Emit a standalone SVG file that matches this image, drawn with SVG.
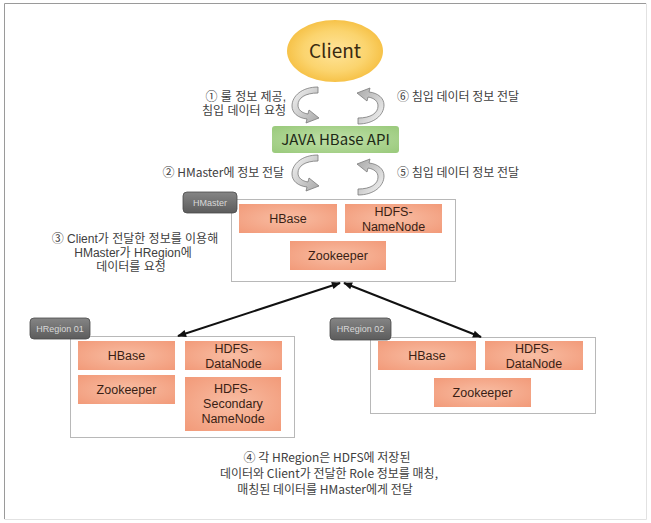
<svg xmlns="http://www.w3.org/2000/svg" width="651" height="523" viewBox="0 0 651 523">
<defs>
<style>
text{font-family:"Noto Sans CJK KR","Noto Sans",sans-serif;}
.lbl{font-size:12px;fill:#404040;}
.lb2{font-family:"Liberation Sans","Noto Sans CJK KR",sans-serif;font-size:12px;fill:#404040;}
.box{fill:url(#sal);}
.bt{font-family:"Liberation Sans",Arial,sans-serif;font-size:12.5px;fill:#3a1e14;text-anchor:middle;}
.cont{fill:#fff;stroke:#b8b8b8;stroke-width:1;}
.tag{fill:url(#gry);stroke:#4a4a4a;stroke-width:0.8;}
.tt{font-family:"Liberation Sans",Arial,sans-serif;font-size:9px;fill:#d8d8d8;text-anchor:middle;}
.carr{fill:url(#arrg);stroke:#7a7a7a;stroke-width:0.8;}
.con{stroke:#111;stroke-width:2;fill:none;marker-start:url(#ah);marker-end:url(#ah);}
</style>
<radialGradient id="sal" cx="50%" cy="50%" r="70%">
<stop offset="0" stop-color="#f8bda3"/>
<stop offset="1" stop-color="#f29a79"/>
</radialGradient>
<radialGradient id="gold" cx="50%" cy="50%" r="55%">
<stop offset="0" stop-color="#ffe49a"/>
<stop offset="0.6" stop-color="#fbd46e"/>
<stop offset="1" stop-color="#f5bd3e"/>
</radialGradient>
<radialGradient id="grn" cx="50%" cy="50%" r="65%">
<stop offset="0" stop-color="#bfe0a8"/>
<stop offset="1" stop-color="#9ccb7e"/>
</radialGradient>
<linearGradient id="gry" x1="0" y1="0" x2="0" y2="1">
<stop offset="0" stop-color="#858585"/>
<stop offset="1" stop-color="#5c5c5c"/>
</linearGradient>
<linearGradient id="arrg" x1="0" y1="0" x2="1" y2="1">
<stop offset="0" stop-color="#f6f6f6"/>
<stop offset="1" stop-color="#a8a8a8"/>
</linearGradient>
<marker id="ah" viewBox="0 0 10 10" refX="9" refY="5" markerWidth="10" markerHeight="9" orient="auto-start-reverse" markerUnits="userSpaceOnUse">
<path d="M0,1 L10,5 L0,9 z" fill="#111"/>
</marker>
<path id="curv" d="M13,-18 C-3,-18 -13,-9 -13,1 C-13,8 -7,13 2,14 L1,18 L14,13 L4,5 L3,9 C-3,8 -7,5 -7,0 C-7,-7 0,-12 13,-12 Z"/>
</defs>

<rect x="0" y="0" width="651" height="523" fill="#fff"/>
<path d="M4.5,519 L4.5,3.5 L646,3.5" fill="none" stroke="#9a9a9a" stroke-width="1"/>
<path d="M646.5,3.5 L646.5,519.5 L4.5,519.5" fill="none" stroke="#e2e2e2" stroke-width="1"/>

<g id="client">
<ellipse cx="335" cy="51" rx="48" ry="31" fill="url(#gold)"/>
<text x="335" y="58" font-size="19" fill="#3a2a10" text-anchor="middle">Client</text>
</g>

<g id="api">
<rect x="272" y="126" width="127" height="27" rx="3" fill="url(#grn)"/>
<text x="335.5" y="145" font-size="15" fill="#1e2a16" text-anchor="middle">JAVA HBase API</text>
</g>

<g id="flow-arrows">
<use href="#curv" class="carr" transform="translate(305,105)"/>
<use href="#curv" class="carr" transform="translate(371,106) rotate(180)"/>
<use href="#curv" class="carr" transform="translate(305,173)"/>
<use href="#curv" class="carr" transform="translate(371,177) rotate(180)"/>
</g>

<g id="labels">
<text class="lb2" x="286" y="101" text-anchor="end">① 룰 정보 제공,</text>
<text class="lb2" x="286" y="115" text-anchor="end">침입 데이터 요청</text>
<text class="lbl" x="397" y="101">⑥ 침입 데이터 정보 전달</text>
<text class="lbl" x="284" y="177" text-anchor="end">② HMaster에 정보 전달</text>
<text class="lbl" x="397" y="177">⑤ 침입 데이터 정보 전달</text>
<text class="lb2" x="135" y="243" text-anchor="middle">③ Client가 전달한 정보를 이용해</text>
<text class="lb2" x="133" y="257" text-anchor="middle">HMaster가 HRegion에</text>
<text class="lb2" x="131" y="271" text-anchor="middle">데이터를 요청</text>
<text class="lbl" x="327" y="462" text-anchor="middle">④ 각 HRegion은 HDFS에 저장된</text>
<text class="lbl" x="329" y="478" text-anchor="middle">데이터와 Client가 전달한 Role 정보를 매칭,</text>
<text class="lbl" x="325" y="494" text-anchor="middle">매칭된 데이터를 HMaster에게 전달</text>
</g>

<g id="hmaster">
<rect class="cont" x="231.5" y="199.5" width="224" height="82"/>
<rect class="tag" x="183" y="192" width="54" height="21" rx="4"/>
<text class="tt" x="210" y="206">HMaster</text>
<rect class="box" x="239" y="204" width="98" height="29"/>
<text class="bt" x="288" y="223">HBase</text>
<rect class="box" x="345" y="204" width="97" height="29"/>
<text class="bt" x="393.5" y="216">HDFS-</text>
<text class="bt" x="393.5" y="230.5">NameNode</text>
<rect class="box" x="290" y="241" width="96" height="29"/>
<text class="bt" x="338" y="260">Zookeeper</text>
</g>

<g id="hregion01">
<rect class="cont" x="70.5" y="336.5" width="224" height="101"/>
<rect class="tag" x="30" y="318" width="60" height="21" rx="4"/>
<text class="tt" x="60" y="332">HRegion 01</text>
<rect class="box" x="78" y="341" width="97" height="29"/>
<text class="bt" x="126.5" y="360">HBase</text>
<rect class="box" x="185" y="341" width="97" height="29"/>
<text class="bt" x="233.5" y="353">HDFS-</text>
<text class="bt" x="233.5" y="367.5">DataNode</text>
<rect class="box" x="78" y="375" width="97" height="29"/>
<text class="bt" x="126.5" y="394">Zookeeper</text>
<rect class="box" x="185" y="377" width="96" height="54"/>
<text class="bt" x="233" y="393">HDFS-</text>
<text class="bt" x="233" y="408">Secondary</text>
<text class="bt" x="233" y="423">NameNode</text>
</g>

<g id="hregion02">
<rect class="cont" x="370.5" y="337.5" width="225" height="76"/>
<rect class="tag" x="330" y="318" width="61" height="22" rx="4"/>
<text class="tt" x="360.5" y="332">HRegion 02</text>
<rect class="box" x="378" y="341" width="98" height="29"/>
<text class="bt" x="427" y="360">HBase</text>
<rect class="box" x="485" y="341" width="98" height="29"/>
<text class="bt" x="534" y="353">HDFS-</text>
<text class="bt" x="534" y="367.5">DataNode</text>
<rect class="box" x="434" y="378" width="97" height="29"/>
<text class="bt" x="482.5" y="397">Zookeeper</text>
</g>

<g id="connectors">
<line class="con" x1="340" y1="283" x2="178" y2="336"/>
<line class="con" x1="344" y1="283" x2="481" y2="337"/>
</g>
</svg>
